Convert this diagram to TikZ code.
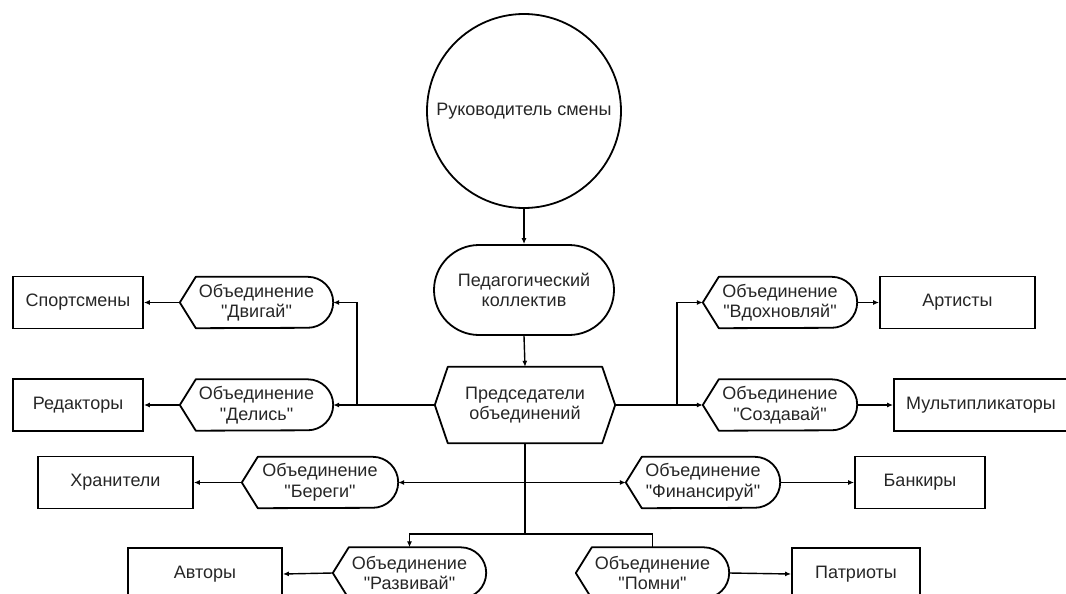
\documentclass[tikz,border=0pt]{standalone}
\usepackage{fontspec}
\setmainfont{Liberation Sans}
\newfontfamily\plainsans{Liberation Sans}
\usetikzlibrary{arrows.meta,calc}
\begin{document}
\begin{tikzpicture}[x=1pt,y=-1pt,
  every node/.style={font=\plainsans\fontsize{18}{20.5}\selectfont, text=black!85, inner sep=0pt, align=center},
  shapeline/.style={draw=black, line width=1.8pt},
  boxnode/.style={shapeline, minimum height=52pt, minimum width=#1},
  dispnode/.style={minimum height=51pt, minimum width=#1},
  conn/.style={draw=black, line width=1.4pt},
  arr/.style={conn, -{Latex[length=6pt,width=5pt]}}
]
\useasboundingbox (0,0) rectangle (1066,594);
\clip (0,0) rectangle (1066,594);

\newcommand\dispoutline[2][16]{%
  \draw[shapeline, line join=round] ([xshift=#1pt]#2.north west) -- ([xshift=-25.5pt]#2.north east)
    arc[start angle=90, end angle=-90, radius=25.5pt]
    -- ([xshift=#1pt]#2.south west) -- (#2.west) -- cycle;}

% central column
\node[shapeline, circle, minimum size=194pt] (ruk) at (524,111) {Руководитель смены};
\node[shapeline, rounded corners=45pt, minimum width=180pt, minimum height=90pt] (ped) at (524,290) {Педагогический\\коллектив};
\node[minimum width=180pt, minimum height=76pt] (pred) at (525,405) {Председатели\\объединений};
\draw[shapeline, line join=round] ([xshift=13pt]pred.north west) -- ([xshift=-13pt]pred.north east) -- (pred.east)
  -- ([xshift=-13pt]pred.south east) -- ([xshift=13pt]pred.south west) -- (pred.west) -- cycle;

% left
\node[dispnode=153pt] (dvig) at (256.5,302.5) {Объединение\\"Двигай"};
\node[dispnode=153pt] (deli) at (256.5,405) {Объединение\\"Делись"};
\dispoutline{dvig}
\dispoutline{deli}
\node[boxnode=130pt] (sport) at (78,302.5) {Спортсмены};
\node[boxnode=130pt] (red) at (78,405) {Редакторы};

% right
\node[dispnode=154pt] (vdoh) at (780,302.5) {Объединение\\"Вдохновляй"};
\node[dispnode=154pt] (sozd) at (780,405) {Объединение\\"Создавай"};
\dispoutline{vdoh}
\dispoutline{sozd}
\node[boxnode=155pt] (art) at (957.5,302.5) {Артисты};
\node[boxnode=174pt] (mult) at (981,405) {Мультипликаторы};

% middle row
\node[dispnode=156pt] (ber) at (320,482.5) {Объединение\\"Береги"};
\node[dispnode=154pt] (fin) at (703,482.5) {Объединение\\"Финансируй"};
\dispoutline{ber}
\dispoutline{fin}
\node[boxnode=155pt] (hran) at (115.5,482.5) {Хранители};
\node[boxnode=130pt] (bank) at (920,482.5) {Банкиры};

% bottom row
\node[dispnode=153pt] (razv) at (409.5,573) {Объединение\\"Развивай"};
\node[dispnode=153pt] (pomn) at (652.5,573) {Объединение\\"Помни"};
\dispoutline{razv}
\dispoutline{pomn}
\node[boxnode=154pt] (avt) at (205,574) {Авторы};
\node[boxnode=128pt] (patr) at (856,574) {Патриоты};

% junctions
\coordinate (lj) at (357,405);
\coordinate (rj) at (677,405);
\coordinate (tr) at (525,482.5);
\coordinate (tb) at (525,534);

% connectors
\draw[arr] (ruk.south) -- (ped.north);
\draw[arr] (ped.south) -- (pred.north);
\draw[conn] (pred.west) -- (lj);
\draw[arr] (lj) -- (deli.east);
\draw[arr] (lj) |- (dvig.east);
\draw[arr] (dvig.west) -- (sport.east);
\draw[arr] (deli.west) -- (red.east);
\draw[conn] (pred.east) -- (rj);
\draw[arr] (rj) -- (sozd.west);
\draw[arr] (rj) |- (vdoh.west);
\draw[arr] (vdoh.east) -- (art.west);
\draw[arr] (sozd.east) -- (mult.west);
\draw[conn] (pred.south) -- (tb);
\draw[arr] (tr) -- (ber.east);
\draw[arr] (tr) -- (fin.west);
\draw[arr] (ber.west) -- (hran.east);
\draw[arr] (fin.east) -- (bank.west);
\draw[arr] (tb) -| (razv.north);
\draw[conn] (tb) -| (pomn.north);
\draw[arr] (razv.west) -- (avt.east);
\draw[arr] (pomn.east) -- (patr.west);
\end{tikzpicture}
\end{document}
